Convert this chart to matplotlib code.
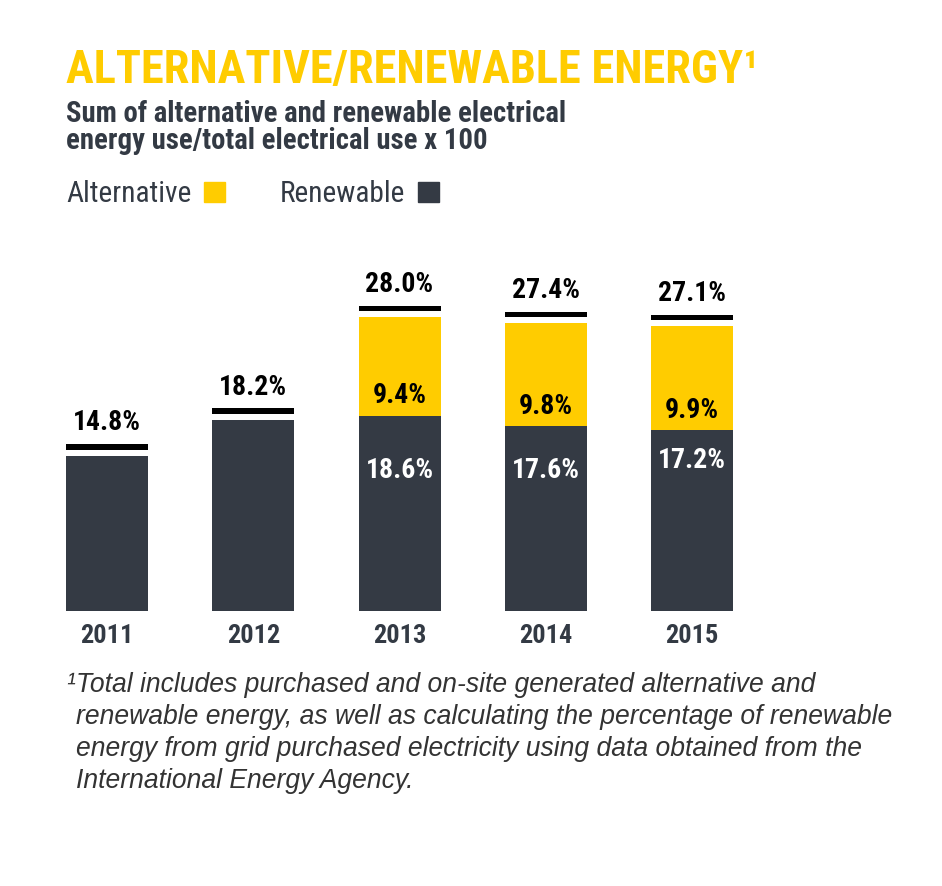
import matplotlib
matplotlib.use("Agg")
import matplotlib.pyplot as plt

# data
years = ["2011", "2012", "2013", "2014", "2015"]
renewable = [14.8, 18.2, 18.6, 17.6, 17.2]
alternative = [0.0, 0.0, 9.4, 9.8, 9.9]
totals = [14.8, 18.2, 28.0, 27.4, 27.1]

title = "ALTERNATIVE/RENEWABLE ENERGY\u00b9"
subtitle = ["Sum of alternative and renewable electrical",
            "energy use/total electrical use x 100"]
footnote = ["Total includes purchased and on-site generated alternative and",
            "renewable energy, as well as calculating the percentage of renewable",
            "energy from grid purchased electricity using data obtained from the",
            "International Energy Agency."]

YELLOW = "#FFCC00"
DARK = "#343A44"
TEXT = "#333A44"
COND = ["Roboto Condensed", "DejaVu Sans"]
ITAL = ["Liberation Sans", "DejaVu Sans"]

W, H = 942, 886
fig = plt.figure(figsize=(W / 100, H / 100), dpi=100)


def px(x, y):
    return x / W, 1 - y / H


# header
fig.text(*px(66, 83), title, family=COND, weight="bold", size=33.4,
         color=YELLOW, va="baseline")
for i, line in enumerate(subtitle):
    fig.text(*px(66, 122 + 27 * i), line, family=COND, weight="bold",
             size=20.7, color=TEXT, va="baseline")

# legend
fig.text(*px(66, 202), "Alternative", family=COND, size=21.2, color=TEXT, va="baseline")
fig.patches.append(plt.Rectangle(px(204, 202), 21 / W, 20 / H, color=YELLOW,
                                 transform=fig.transFigure, figure=fig))
fig.text(*px(280, 202), "Renewable", family=COND, size=21.2, color=TEXT, va="baseline")
fig.patches.append(plt.Rectangle(px(418, 202), 21 / W, 20 / H, color=DARK,
                                 transform=fig.transFigure, figure=fig))

# bars
PX_PER_UNIT = 10.5
STEP = 146.25
x0, base_y, top_y = 107, 611, 250
ax = fig.add_axes([0, (H - base_y) / H, 1, (base_y - top_y) / H])
ax.set_xlim(-x0 / STEP, (W - x0) / STEP)
ax.set_ylim(0, (base_y - top_y) / PX_PER_UNIT)
ax.axis("off")

xs = range(len(years))
width = 82 / STEP
gap = 6 / PX_PER_UNIT
thick = 5.5 / PX_PER_UNIT
ax.bar(xs, renewable, width=width, color=DARK)
ax.bar(xs, alternative, width=width, bottom=renewable, color=YELLOW)
ax.bar(xs, [thick] * len(xs), width=width,
       bottom=[t + gap for t in totals], color="black")

dark_drop = [0, 0, 45, 37, 27]
for i, yr in enumerate(years):
    ax.annotate(f"{totals[i]:.1f}%", (i, totals[i] + gap + thick),
                xytext=(0, 10), textcoords="offset points", ha="center",
                va="baseline", family=COND, weight="bold", size=20, color="black")
    ax.annotate(yr, (i, 0), xytext=(0, -23), textcoords="offset points",
                ha="center", va="baseline", family=COND, weight="bold",
                size=19, color=TEXT, annotation_clip=False)
    if alternative[i] > 0:
        ax.annotate(f"{alternative[i]:.1f}%", (i, renewable[i]), xytext=(0, 9),
                    textcoords="offset points", ha="center", va="baseline",
                    family=COND, weight="bold", size=20, color="black")
        ax.annotate(f"{renewable[i]:.1f}%", (i, renewable[i]),
                    xytext=(0, -dark_drop[i]), textcoords="offset points",
                    ha="center", va="baseline", family=COND, weight="bold",
                    size=20, color="white")

# footnote
fig.text(*px(66, 692), "\u00b9", family=ITAL, style="italic", size=19.1,
         color="#333333", va="baseline")
for i, line in enumerate(footnote):
    fig.text(*px(76, 692 + 32 * i), line, family=ITAL, style="italic",
             size=19.1, color="#333333", va="baseline")

fig.savefig("out.png", dpi=100, facecolor="white")
